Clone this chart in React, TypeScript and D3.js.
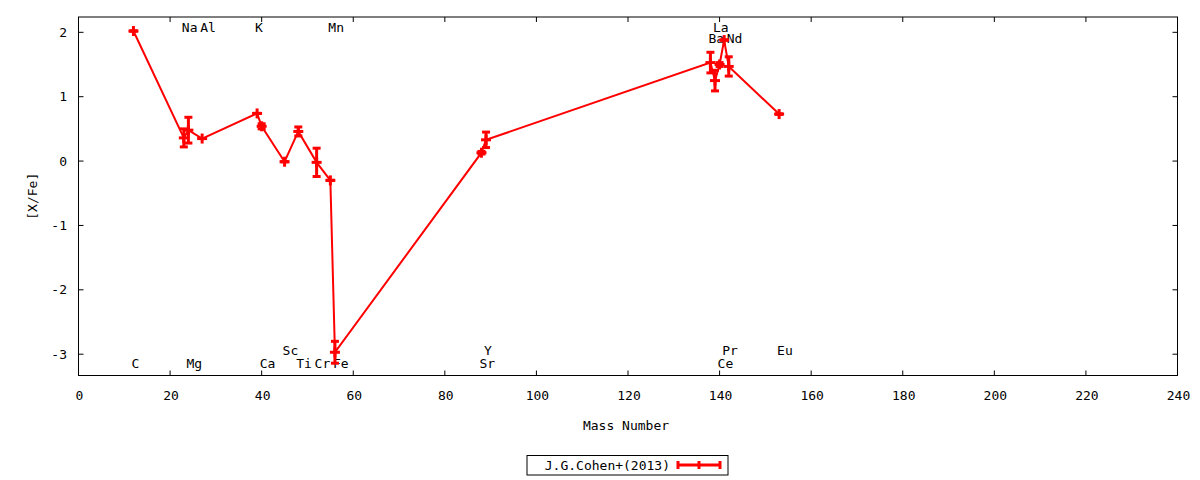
import React from "react";
import * as d3 from "d3";

// ---- data ----
const elements = ["C", "Na", "Mg", "Al", "K", "Ca", "Sc", "Ti", "Cr", "Mn", "Fe", "Sr", "Y", "Ba", "La", "Ce", "Pr", "Nd", "Eu"];
const massNumbers = [12, 23, 24, 27, 39, 40, 45, 48, 52, 55, 56, 88, 89, 138, 139, 140, 141, 142, 153];
const xFe = [2.02, 0.36, 0.48, 0.35, 0.74, 0.54, -0.01, 0.46, -0.02, -0.3, -2.97, 0.13, 0.33, 1.53, 1.25, 1.5, 1.88, 1.47, 0.73];
const xFeErr = [0, 0.14, 0.2, 0, 0, 0.04, 0, 0.07, 0.22, 0, 0.17, 0.02, 0.12, 0.16, 0.16, 0.03, 0, 0.15, 0];

const labelNames = ["C", "Na", "Mg", "Al", "K", "Ca", "Sc", "Ti", "Cr", "Fe", "Mn", "Sr", "Y", "Ba", "La", "Ce", "Pr", "Nd", "Eu"];
const labelMass = [12, 23, 24, 27, 39, 40, 45, 48, 52, 56, 55, 88, 89, 138, 139, 140, 141, 142, 153];
const labelY = [-3.15, 2.07, -3.15, 2.07, 2.07, -3.15, -2.94, -3.15, -3.15, -3.15, 2.07, -3.15, -2.94, 1.9, 2.07, -3.15, -2.94, 1.9, -2.94];

const xTicks = [0, 20, 40, 60, 80, 100, 120, 140, 160, 180, 200, 220, 240];
const yTicks = [-3, -2, -1, 0, 1, 2];
const legendLabel = "J.G.Cohen+(2013)";

// ---- layout ----
const W = 1200;
const H = 480;
const left = 78.5;
const right = 1177.5;
const top = 17;
const bottom = 375.5;
const FONT = "'DejaVu Sans Mono', monospace";
const RED = "#ff0000";

export default function App() {
  const x = d3.scaleLinear().domain([0, 240]).range([left, right]);
  const y = d3.scaleLinear().domain([-3.331, 2.238]).range([bottom, top]);

  const pts = massNumbers.map((m, i) => ({ m, v: xFe[i], e: xFeErr[i], name: elements[i] }));
  const line = d3
    .line<{ m: number; v: number }>()
    .x((d) => x(d.m))
    .y((d) => y(d.v));

  const tickLen = 5;
  const cap = 4;
  const arm = 5;

  return (
    <svg
      width={W}
      height={H}
      style={{ position: "absolute", left: 0, top: 0, background: "#fff" }}
      fontFamily={FONT}
      fontSize={13}
    >
      <rect x={0} y={0} width={W} height={H} fill="#fff" />
      {/* ticks */}
      {yTicks.map((t) => (
        <g key={"y" + t}>
          <line x1={left} x2={left + tickLen} y1={y(t)} y2={y(t)} stroke="#000" strokeWidth={1} />
          <line x1={right} x2={right - tickLen} y1={y(t)} y2={y(t)} stroke="#000" strokeWidth={1} />
          <text x={67} y={y(t)} textAnchor="end" dominantBaseline="central" fill="#000">
            {String(t)}
          </text>
        </g>
      ))}
      {xTicks.map((t) => (
        <g key={"x" + t}>
          <line x1={x(t)} x2={x(t)} y1={bottom} y2={bottom - tickLen} stroke="#000" strokeWidth={1} />
          <line x1={x(t)} x2={x(t)} y1={top} y2={top + tickLen} stroke="#000" strokeWidth={1} />
          <text x={x(t) + 1} y={395} textAnchor="middle" dominantBaseline="central" fill="#000">
            {t}
          </text>
        </g>
      ))}
      {/* frame */}
      <rect x={left} y={top} width={right - left} height={bottom - top} fill="none" stroke="#000" strokeWidth={1} />

      {/* element labels */}
      {labelNames.map((n, i) => (
        <text key={"l" + i} x={x(labelMass[i]) - 2} y={y(labelY[i])} dominantBaseline="central" fill="#000">
          {n}
        </text>
      ))}

      {/* data line */}
      <path d={line(pts) || ""} fill="none" stroke={RED} strokeWidth={2} />
      {/* error bars and point markers */}
      {pts.map((d, i) => (
        <g key={"e" + i} stroke={RED} strokeWidth={3}>
          <line x1={x(d.m)} x2={x(d.m)} y1={y(d.v - d.e)} y2={y(d.v + d.e)} />
          <line x1={x(d.m) - cap} x2={x(d.m) + cap} y1={y(d.v - d.e)} y2={y(d.v - d.e)} />
          <line x1={x(d.m) - cap} x2={x(d.m) + cap} y1={y(d.v + d.e)} y2={y(d.v + d.e)} />
          <line x1={x(d.m) - arm} x2={x(d.m) + arm} y1={y(d.v)} y2={y(d.v)} />
          <line x1={x(d.m)} x2={x(d.m)} y1={y(d.v) - arm} y2={y(d.v) + arm} />
        </g>
      ))}

      {/* axis titles */}
      <text x={626} y={425} textAnchor="middle" dominantBaseline="central" fill="#000">
        Mass Number
      </text>
      <text
        transform={`translate(32,${(top + bottom) / 2}) rotate(-90)`}
        textAnchor="middle"
        dominantBaseline="central"
        fill="#000"
      >
        [X/Fe]
      </text>

      {/* legend */}
      <rect x={527} y={455.5} width={201} height={19.5} fill="none" stroke="#000" strokeWidth={1} />
      <text x={670} y={465} textAnchor="end" dominantBaseline="central" fill="#000">
        {legendLabel}
      </text>
      <g stroke={RED} strokeWidth={3}>
        <line x1={678} x2={720} y1={465} y2={465} />
        <line x1={678} x2={678} y1={461} y2={469} />
        <line x1={720} x2={720} y1={461} y2={469} />
        <line x1={699} x2={699} y1={461} y2={469} />
      </g>
    </svg>
  );
}
